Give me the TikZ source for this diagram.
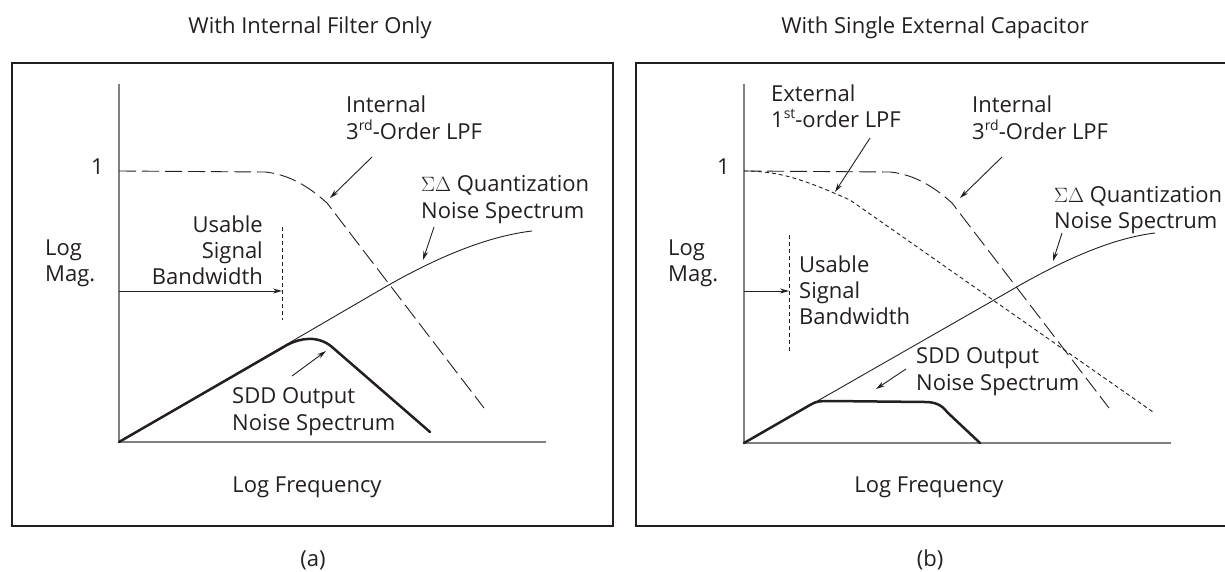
\documentclass[tikz,border=0pt]{standalone}
\usepackage{fontspec}
\setmainfont{Open Sans}
\usetikzlibrary{arrows.meta}
\definecolor{ink}{HTML}{231F20}
\definecolor{axisgray}{HTML}{808080}
% small raised ordinal suffix
\newcommand\ordsup[1]{\raisebox{0.42em}{\fontsize{14}{14}\selectfont #1}}

\begin{document}
\begin{tikzpicture}[x=1pt,y=-1pt,
  lbl/.style={inner sep=0pt, text=ink, font=\fontsize{22}{27}\selectfont},
  lblw/.style={lbl, anchor=base west},
  lble/.style={lbl, anchor=base east},
  lblc/.style={lbl, anchor=base},
  frame/.style={draw=ink, line width=2.3pt},
  axis/.style={draw=axisgray, line width=2pt},
  curve/.style={draw=ink, line width=0.9pt, line join=round},
  sddcurve/.style={draw=ink, line width=2.5pt, line join=round, line cap=round},
  lpfthree/.style={curve, dash pattern=on 17pt off 6pt},
  lpfone/.style={curve, dash pattern=on 4pt off 3pt},
  bwline/.style={draw=ink, line width=1pt, dash pattern=on 4pt off 3pt},
  pointer/.style={draw=ink, line width=0.9pt, -{Stealth[length=9pt,width=5pt]}},
]
\useasboundingbox (0,0) rectangle (1225,572);

% ---------------- panel (a): internal filter only ----------------
\node[lblc] (titleA) at (310,34) {With Internal Filter Only};
\draw[frame] (12,63) rectangle (613,526);
\coordinate (oA) at (119,442);
\coordinate (yA) at (119,84);
\coordinate (xA) at (546,442);
\draw[axis] (yA) -- (oA) -- (xA);

\node[lble] (oneA) at (104,175) {1};
\node[lblw] (logA1) at (45,255) {Log};
\node[lblw] (logA2) at (45,281) {Mag.};

% internal 3rd-order low-pass response
\draw[lpfthree] (119,171) -- (265,172) .. controls (285,174) and (305,183) .. (327,203) -- (484,408);
% sigma-delta quantization noise
\draw[curve] (oA) -- (380,290) .. controls (440,255) and (490,236) .. (532,231);
% shaped output noise
\draw[sddcurve] (oA) -- (287,345) .. controls (300,338) and (318,335) .. (332,347) -- (430,432);

% usable signal bandwidth
\coordinate (bwAtop) at (282,227);
\coordinate (bwAbot) at (282,320);
\draw[bwline] (bwAtop) -- (bwAbot);
\coordinate (bwA) at (282,291);
\coordinate (bwAaxis) at (119,291);
\draw[pointer] (bwAaxis) -- (bwA);
\node[lble] (usA1) at (263,232) {Usable};
\node[lble] (usA2) at (263,258) {Signal};
\node[lble] (usA3) at (263,284) {Bandwidth};

% labels and pointers
\node[lblw] (intA1) at (346,113) {Internal};
\node[lblw] (intA2) at (346,140) {3\ordsup{rd}-Order LPF};
\coordinate (intAs) at (372,157);
\coordinate (intAe) at (330,198);
\draw[pointer] (intAs) -- (intAe);

\node[lblw] (sdA1) at (421,192) {$\Sigma\Delta$ Quantization};
\node[lblw] (sdA2) at (421,218) {Noise Spectrum};
\coordinate (sdAs) at (434,227);
\coordinate (sdAe) at (423,260);
\draw[pointer] (sdAs) -- (sdAe);

\node[lblw] (sddA1) at (232,403) {SDD Output};
\node[lblw] (sddA2) at (232,430) {Noise Spectrum};
\coordinate (sddAs) at (292,376);
\coordinate (sddAe) at (326,351);
\draw[pointer] (sddAs) -- (sddAe);

\node[lblc] (freqA) at (307,492) {Log Frequency};
\node[lblc] (capA) at (313,566) {(a)};

% ---------------- panel (b): single external capacitor ----------------
\node[lblc] (titleB) at (935,34) {With Single External Capacitor};
% the right side of this frame runs past the page edge
\draw[frame] (636,63) rectangle (1230,526);
\coordinate (oB) at (744,443);
\coordinate (yB) at (744,84);
\coordinate (xB) at (1171,443);
\draw[axis] (yB) -- (oB) -- (xB);

\node[lble] (oneB) at (730,175) {1};
\node[lblw] (logB1) at (668,255) {Log};
\node[lblw] (logB2) at (668,281) {Mag.};

% internal 3rd-order low-pass response
\draw[lpfthree] (744,171) -- (890,172) .. controls (910,174) and (930,183) .. (952,203) -- (1109,408);
% external 1st-order low-pass response
\draw[lpfone] (744,171) .. controls (780,171) and (805,180) .. (850,200) -- (1153,412);
% sigma-delta quantization noise
\draw[curve] (oB) -- (1008,292) .. controls (1066,258) and (1114,238) .. (1155,233);
% shaped output noise
\draw[sddcurve] (oB) -- (810,405) .. controls (816,401) and (821,401) .. (830,401) -- (925,402) .. controls (935,402) and (942,405) .. (947,412) -- (980,443);

% usable signal bandwidth
\coordinate (bwBtop) at (789,235);
\coordinate (bwBbot) at (789,353);
\draw[bwline] (bwBtop) -- (bwBbot);
\coordinate (bwB) at (789,291);
\coordinate (bwBaxis) at (744,291);
\draw[pointer] (bwBaxis) -- (bwB);
\node[lblw] (usB1) at (799,272) {Usable};
\node[lblw] (usB2) at (799,298) {Signal};
\node[lblw] (usB3) at (799,324) {Bandwidth};

% labels and pointers
\node[lblw] (extB1) at (771,102) {External};
\node[lblw] (extB2) at (771,128) {1\ordsup{st}-order LPF};
\coordinate (extBs) at (870,138);
\coordinate (extBe) at (835,192);
\draw[pointer] (extBs) -- (extBe);

\node[lblw] (intB1) at (972,113) {Internal};
\node[lblw] (intB2) at (972,140) {3\ordsup{rd}-Order LPF};
\coordinate (intBs) at (1002,157);
\coordinate (intBe) at (960,198);
\draw[pointer] (intBs) -- (intBe);

\node[lblw] (sdB1) at (1054,203) {$\Sigma\Delta$ Quantization};
\node[lblw] (sdB2) at (1054,228) {Noise Spectrum};
\coordinate (sdBs) at (1062,233);
\coordinate (sdBe) at (1053,261);
\draw[pointer] (sdBs) -- (sdBe);

\node[lblw] (sddB1) at (916,363) {SDD Output};
\node[lblw] (sddB2) at (916,390) {Noise Spectrum};
\coordinate (sddBs) at (906,369);
\coordinate (sddBe) at (876,389);
\draw[pointer] (sddBs) -- (sddBe);

\node[lblc] (freqB) at (929,492) {Log Frequency};
\node[lblc] (capB) at (930,566) {(b)};
\end{tikzpicture}
\end{document}
